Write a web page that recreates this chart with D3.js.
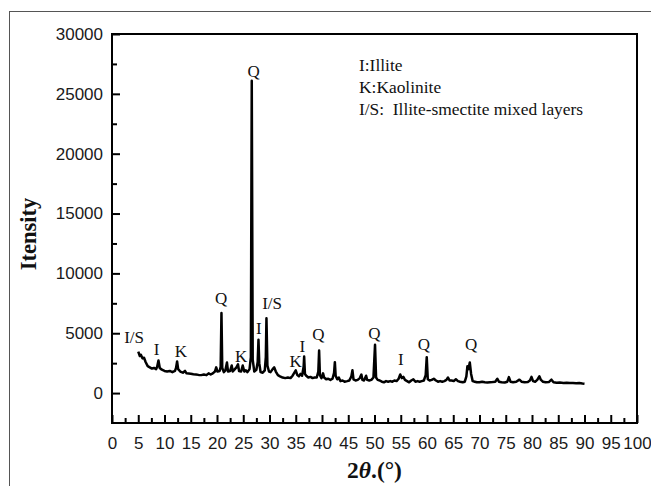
<!DOCTYPE html>
<html>
<head>
<meta charset="utf-8">
<script src="https://cdn.jsdelivr.net/npm/d3@7/dist/d3.min.js"></script>
<style>
  html, body { margin: 0; padding: 0; background: #fff; }
  svg { display: block; }
</style>
</head>
<body>
<svg id="chart" width="651" height="486"></svg>
<script>
// XRD pattern: diffraction angle 2θ (degrees) and measured intensity (counts)
const twoTheta = [
  5.0, 5.3, 5.5, 5.8, 6.1, 6.4, 6.8, 7.2, 7.6, 8.0, 8.4, 8.6, 8.85, 9.1, 9.5,
  10.0, 10.5, 11.0, 11.5, 12.0, 12.2, 12.4, 12.6, 13.0, 13.5, 13.9, 14.2, 15.0,
  15.5, 16.0, 16.5, 17.0, 17.5, 18.0, 18.4, 18.8, 19.2, 19.6, 19.85, 20.1, 20.5,
  20.7, 20.85, 21.0, 21.3, 21.6, 21.9, 22.1, 22.5, 22.8, 23.0, 23.4, 23.7, 24.0,
  24.2, 24.6, 24.9, 25.2, 25.5, 25.8, 26.2, 26.45, 26.62, 26.8, 27.1, 27.5,
  27.75, 27.9, 28.05, 28.3, 28.7, 29.1, 29.3, 29.42, 29.6, 29.9, 30.2, 30.6,
  30.9, 31.2, 31.6, 32.0, 32.5, 33.0, 33.5, 34.0, 34.4, 34.8, 35.0, 35.3, 35.6,
  35.9, 36.2, 36.5, 36.6, 36.75, 37.0, 37.4, 37.8, 38.2, 38.6, 39.0, 39.3,
  39.45, 39.6, 39.9, 40.2, 40.4, 40.8, 41.2, 41.6, 42.0, 42.3, 42.45, 42.6,
  42.9, 43.2, 43.5, 43.9, 44.3, 44.8, 45.2, 45.6, 45.8, 46.0, 46.4, 46.8, 47.2,
  47.5, 47.7, 48.0, 48.4, 48.6, 49.0, 49.4, 49.8, 50.1, 50.3, 50.6, 51.0, 51.4,
  51.8, 52.2, 52.6, 53.0, 53.4, 53.8, 54.2, 54.6, 54.9, 55.2, 55.5, 55.8, 56.2,
  56.6, 57.0, 57.4, 57.8, 58.2, 58.6, 59.0, 59.4, 59.75, 59.95, 60.15, 60.5,
  60.9, 61.3, 61.7, 62.1, 62.5, 62.9, 63.3, 63.7, 64.0, 64.3, 64.7, 65.1, 65.5,
  65.9, 66.3, 66.8, 67.2, 67.5, 67.7, 67.9, 68.15, 68.4, 68.7, 69.1, 69.5, 70.0,
  70.5, 71.0, 71.5, 72.0, 72.5, 73.0, 73.4, 73.7, 74.2, 74.8, 75.3, 75.6, 75.9,
  76.4, 77.0, 77.6, 78.0, 78.6, 79.2, 79.6, 79.9, 80.2, 80.6, 81.0, 81.4, 81.7,
  82.1, 82.6, 83.2, 83.7, 84.1, 84.7, 85.3, 86.0, 86.6, 87.2, 87.8, 88.4, 89.0,
  89.6, 90.0
];
const intensity = [
  3470, 3100, 3200, 2900, 2950, 2600, 2250, 2150, 2050, 2100, 2000, 2200, 2720, 2100, 1950,
  1850, 1800, 1850, 1750, 1850, 2100, 2640, 2000, 1800, 1700, 1850, 1650, 1620,
  1580, 1550, 1520, 1500, 1550, 1500, 1650, 1550, 1650, 1800, 2150, 1800, 1850,
  2200, 6680, 2100, 1750, 1900, 2550, 1800, 1850, 2300, 1800, 2000, 2150, 2400,
  1850, 1800, 2300, 1800, 1900, 1750, 2000, 3000, 26100, 2800, 1800, 1950,
  2600, 4450, 2500, 1750, 1700, 1900, 3000, 6260, 2300, 1800, 1750, 2000,
  2150, 1800, 1500, 1400, 1300, 1250, 1300, 1250, 1450, 1750, 1900, 1500, 1400,
  1600, 1450, 2200, 3050, 1600, 1450, 1300, 1350, 1250, 1300, 1300, 1800,
  3550, 1500, 1250, 1650, 1300, 1150, 1200, 1100, 1200, 1700, 2580, 1450,
  1150, 1300, 1000, 1050, 950, 1000, 1050, 1400, 1900, 1150, 1050, 1100, 1250,
  1550, 1100, 1050, 1450, 1100, 1050, 1100, 1300, 4030, 1300, 1100, 1050, 950,
  900, 1000, 950, 1000, 950, 1050, 1000, 1200, 1550, 1250, 1350, 1100, 1000,
  900, 1050, 1150, 950, 1000, 950, 1000, 1050, 1500, 3000, 1150, 1050,
  1100, 1200, 1050, 950, 1000, 950, 1000, 1100, 1300, 1050, 1050, 1000, 1150,
  1000, 950, 900, 950, 1400, 2250, 2000, 2560, 1600, 1000, 950, 900, 900,
  950, 900, 880, 900, 920, 950, 1200, 950, 900, 880, 950, 1330, 950,
  900, 950, 1120, 950, 900, 920, 1050, 1350, 1000, 950, 1100, 1400, 1100,
  950, 900, 920, 1120, 900, 870, 880, 850, 860, 840, 850, 830, 840,
  800, 780
];

// Phase labels placed above their reflections (2θ, intensity at label baseline)
const peakLabels = ["I/S", "I", "K", "Q", "K", "Q", "I", "I/S", "K", "I", "Q", "Q", "I", "Q", "Q"];
const labelTheta = [4.2, 8.5, 13.1, 20.8, 24.6, 27.0, 27.95, 30.5, 35.0, 36.25, 39.3, 50.0, 55.0, 59.4, 68.4];
const labelIntensity = [4200, 3200, 3030, 7430, 2590, 26440, 4950, 7040, 2170, 3420, 4400, 4530, 2310, 3570, 3570];

// Key text
const legendLines = ["I:Illite", "K:Kaolinite", "I/S:\u00a0 Illite-smectite mixed layers"];

// Axis ticks
const xTicks = d3.range(0, 101, 5);
const xMinorTicks = d3.range(2.5, 100, 5);
const yTicks = [0, 5000, 10000, 15000, 20000, 25000, 30000];
const yMinorTicks = [2500, 7500, 12500, 17500, 22500, 27500];

const svg = d3.select("#chart");
const W = 651, H = 486;
const plotLeft = 112, plotRight = 637, plotTop = 34, plotBottom = 423;

const x = d3.scaleLinear().domain([0, 100]).range([plotLeft, plotRight]);
const y = d3.scaleLinear().domain([-2500, 30000]).range([plotBottom, plotTop]);

// outer frame lines
svg.append("line").attr("x1", 9).attr("x2", W).attr("y1", 11.5).attr("y2", 11.5)
  .attr("stroke", "#555").attr("stroke-width", 1);
svg.append("line").attr("x1", 9.5).attr("x2", 9.5).attr("y1", 11).attr("y2", H)
  .attr("stroke", "#555").attr("stroke-width", 1);

// plot box
svg.append("rect")
  .attr("x", plotLeft).attr("y", plotTop)
  .attr("width", plotRight - plotLeft).attr("height", plotBottom - plotTop)
  .attr("fill", "none").attr("stroke", "#000").attr("stroke-width", 2);

const tickFont = "'Liberation Sans', Arial, sans-serif";

// x axis (ticks pointing inward)
const xAxis = svg.append("g").attr("transform", `translate(0,${plotBottom})`)
  .call(d3.axisBottom(x).tickValues(xTicks).tickSize(-8).tickPadding(14).tickFormat(d3.format("d")));
xAxis.select(".domain").remove();
xAxis.selectAll("line").attr("stroke", "#000").attr("stroke-width", 2);
xAxis.selectAll("text").attr("font-family", tickFont).attr("font-size", 17).attr("fill", "#1a1a1a");

const xMinor = svg.append("g").attr("transform", `translate(0,${plotBottom})`)
  .call(d3.axisBottom(x).tickValues(xMinorTicks).tickSize(-5).tickFormat(""));
xMinor.select(".domain").remove();
xMinor.selectAll("line").attr("stroke", "#000").attr("stroke-width", 2);

// y axis (ticks pointing inward)
const yAxis = svg.append("g").attr("transform", `translate(${plotLeft},0)`)
  .call(d3.axisLeft(y).tickValues(yTicks).tickSize(-8).tickPadding(9).tickFormat(d3.format("d")));
yAxis.select(".domain").remove();
yAxis.selectAll("line").attr("stroke", "#000").attr("stroke-width", 2);
yAxis.selectAll("text").attr("font-family", tickFont).attr("font-size", 17).attr("fill", "#1a1a1a");

const yMinor = svg.append("g").attr("transform", `translate(${plotLeft},0)`)
  .call(d3.axisLeft(y).tickValues(yMinorTicks).tickSize(-5).tickFormat(""));
yMinor.select(".domain").remove();
yMinor.selectAll("line").attr("stroke", "#000").attr("stroke-width", 2);

// diffraction trace
const pts = twoTheta.map((t, i) => [t, intensity[i]]);
svg.append("path")
  .datum(pts)
  .attr("fill", "none")
  .attr("stroke", "#000")
  .attr("stroke-width", 2.5)
  .attr("stroke-linejoin", "round")
  .attr("d", d3.line().x(d => x(d[0])).y(d => y(d[1])));

const serif = "'Liberation Serif', 'Times New Roman', serif";

// phase labels
svg.append("g").selectAll("text")
  .data(peakLabels)
  .join("text")
  .attr("x", (d, i) => x(labelTheta[i]))
  .attr("y", (d, i) => y(labelIntensity[i]))
  .attr("text-anchor", "middle")
  .attr("font-family", serif)
  .attr("font-size", 17)
  .attr("fill", "#111")
  .text(d => d);

// key
svg.append("g").selectAll("text")
  .data(legendLines)
  .join("text")
  .attr("x", 359)
  .attr("y", (d, i) => 71 + i * 22)
  .attr("font-family", serif)
  .attr("font-size", 17.4)
  .attr("fill", "#111")
  .text(d => d);

// axis titles
svg.append("text")
  .attr("transform", "translate(36,234) rotate(-90)")
  .attr("text-anchor", "middle")
  .attr("font-family", serif)
  .attr("font-weight", "bold")
  .attr("font-size", 22.5)
  .attr("fill", "#111")
  .text("Itensity");

const xt = svg.append("text")
  .attr("x", (plotLeft + plotRight) / 2)
  .attr("y", 478)
  .attr("text-anchor", "middle")
  .attr("font-family", serif)
  .attr("font-weight", "bold")
  .attr("font-size", 23.5)
  .attr("fill", "#111");
xt.append("tspan").text("2");
xt.append("tspan").attr("font-style", "italic").text("θ");
xt.append("tspan").text(".(°)");
</script>
</body>
</html>
